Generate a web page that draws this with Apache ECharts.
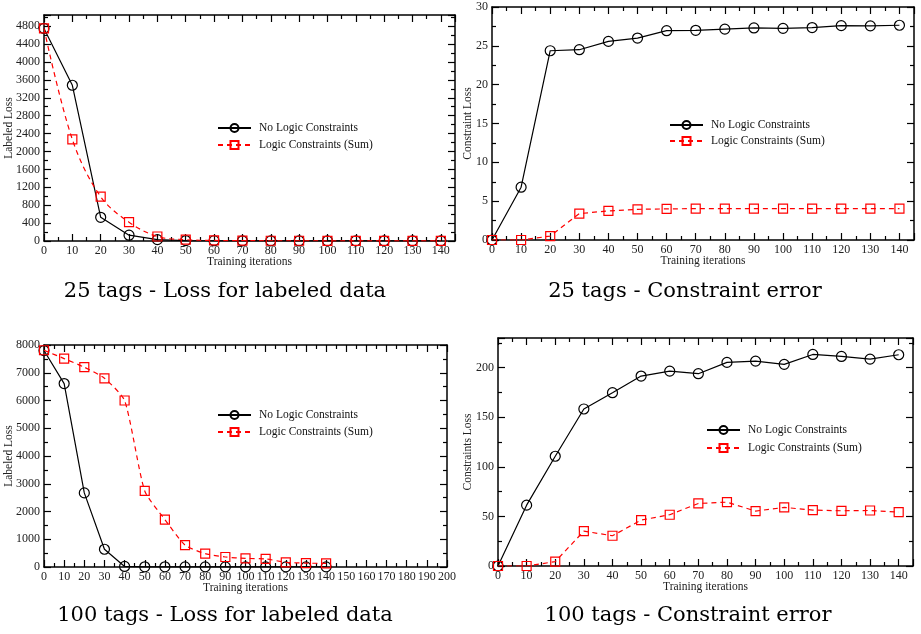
<!DOCTYPE html>
<html>
<head>
<meta charset="utf-8">
<script src="https://cdn.jsdelivr.net/npm/echarts@6/dist/echarts.min.js"></script>
<style>
  html, body { margin: 0; padding: 0; background: #fff; }
  #chart { width: 921px; height: 634px; }
</style>
</head>
<body>
<div id="chart"></div>
<script>
  // training iterations shared by all four panels
  const iters = [0, 10, 20, 30, 40, 50, 60, 70, 80, 90, 100, 110, 120, 130, 140];

  // 25 tags - loss for labeled data
  const loss25NoLogic = [4750, 3480, 530, 130, 30, 10, 6, 5, 5, 5, 5, 5, 5, 5, 5];
  const loss25Logic = [4750, 2270, 990, 420, 100, 30, 12, 8, 6, 6, 5, 5, 5, 5, 5];

  // 25 tags - constraint error
  const err25NoLogic = [0, 6.8, 24.37, 24.5, 25.57, 26.0, 26.95, 27.0, 27.15, 27.3, 27.25, 27.35, 27.6, 27.57, 27.65];
  const err25Logic = [0, 0, 0.5, 3.4, 3.75, 3.95, 4.0, 4.05, 4.05, 4.05, 4.05, 4.05, 4.05, 4.05, 4.05];

  // 100 tags - loss for labeled data
  const loss100NoLogic = [7800, 6610, 2670, 640, 20, 8, 6, 5, 5, 5, 5, 5, 5, 5, 5];
  const loss100Logic = [7810, 7510, 7200, 6800, 6000, 2740, 1710, 790, 480, 360, 310, 290, 170, 140, 130];

  // 100 tags - constraint error
  const err100NoLogic = [0, 61.4, 110.7, 158.4, 174.8, 191.6, 196.6, 194, 205.4, 206.7, 203.4, 213.4, 211.4, 208.7, 213.1];
  const err100Logic = [0, 0, 4.4, 35.2, 30.5, 46.3, 51.7, 63.1, 64.4, 55.4, 59.1, 56.4, 55.7, 56.0, 54.4];

  const serifFont = 'Liberation Serif';
  const captionFont = 'DejaVu Serif';
  const nameNo = 'No Logic Constraints';
  const nameSum = 'Logic Constraints (Sum)';

  const pair = (ys) => iters.map((x, i) => [x, ys[i]]);

  const grids = [
    { left: 44, top: 15, width: 411, height: 226 },
    { left: 492, top: 7, width: 422, height: 233 },
    { left: 44, top: 345, width: 403, height: 222 },
    { left: 498, top: 338, width: 415, height: 228 }
  ];

  const panels = [
    { xMax: 145, xInt: 10, yMax: 5050, yInt: 400, yName: 'Labeled Loss', yGap: 29 },
    { xMax: 145, xInt: 10, yMax: 30, yInt: 5, yName: 'Constraint Loss', yGap: 18 },
    { xMax: 200, xInt: 10, yMax: 8000, yInt: 1000, yName: 'Labeled Loss', yGap: 29 },
    { xMax: 145, xInt: 10, yMax: 230, yInt: 50, yName: 'Constraints Loss', yGap: 24 }
  ];

  const lineColor = '#000';
  const labelStyle = { fontFamily: serifFont, fontSize: 12, color: '#222' };

  function baseAxis(min, max, interval, showLabel) {
    return {
      type: 'value',
      min: min,
      max: max,
      interval: interval,
      nameMoveOverlap: false,
      axisLine: { show: true, onZero: false, lineStyle: { color: lineColor, width: 1.5 } },
      axisTick: { show: true, inside: true, length: 7, lineStyle: { color: lineColor, width: 1.2 } },
      minorTick: { show: true, splitNumber: 2, length: 4, lineStyle: { color: lineColor, width: 1.2 } },
      splitLine: { show: false },
      axisLabel: Object.assign({
        show: showLabel,
        margin: 4,
        showMaxLabel: max % interval === 0,
        formatter: (v) => String(v)
      }, labelStyle)
    };
  }

  const xAxis = [];
  const yAxis = [];
  panels.forEach((p, gi) => {
    const xb = baseAxis(0, p.xMax, p.xInt, true);
    xb.gridIndex = gi;
    xb.position = 'bottom';
    xb.name = 'Training iterations';
    xb.nameLocation = 'middle';
    xb.nameGap = 15;
    xb.nameTextStyle = { fontFamily: serifFont, fontSize: 11.5, color: '#222' };
    const xt = baseAxis(0, p.xMax, p.xInt, false);
    xt.gridIndex = gi;
    xt.position = 'top';
    xAxis.push(xb, xt);

    const yl = baseAxis(0, p.yMax, p.yInt, true);
    yl.gridIndex = gi;
    yl.position = 'left';
    yl.name = p.yName;
    yl.nameLocation = 'middle';
    yl.nameGap = p.yGap;
    yl.nameTextStyle = { fontFamily: serifFont, fontSize: 11.5, color: '#222' };
    const yr = baseAxis(0, p.yMax, p.yInt, false);
    yr.gridIndex = gi;
    yr.position = 'right';
    yAxis.push(yl, yr);
  });

  function noLogicSeries(gi, ys) {
    return {
      name: nameNo,
      type: 'line',
      xAxisIndex: gi * 2,
      yAxisIndex: gi * 2,
      data: pair(ys),
      symbol: 'circle',
      symbolSize: 10,
      showAllSymbol: true,
      itemStyle: { color: 'rgba(0,0,0,0)', borderColor: '#000', borderWidth: 1.2 },
      lineStyle: { color: '#000', width: 1.2 },
      emphasis: { disabled: true },
      z: 3
    };
  }

  function logicSeries(gi, ys, smooth) {
    return {
      name: nameSum,
      type: 'line',
      xAxisIndex: gi * 2,
      yAxisIndex: gi * 2,
      data: pair(ys),
      smooth: smooth,
      symbol: 'rect',
      symbolSize: 9,
      showAllSymbol: true,
      itemStyle: { color: 'rgba(0,0,0,0)', borderColor: '#ff0000', borderWidth: 1.2 },
      lineStyle: { color: '#ff0000', width: 1.2, type: [5, 4] },
      emphasis: { disabled: true },
      z: 4
    };
  }

  const series = [
    noLogicSeries(0, loss25NoLogic),
    logicSeries(0, loss25Logic, 0.35),
    noLogicSeries(1, err25NoLogic),
    logicSeries(1, err25Logic, false),
    noLogicSeries(2, loss100NoLogic),
    logicSeries(2, loss100Logic, 0.2),
    noLogicSeries(3, err100NoLogic),
    logicSeries(3, err100Logic, false)
  ];

  const legendPos = [
    { left: 212, top: 117, itemGap: 5 },
    { left: 664, top: 114, itemGap: 4 },
    { left: 212, top: 404, itemGap: 5 },
    { left: 701, top: 419, itemGap: 6 }
  ];
  const legend = legendPos.map((lp) => ({
    left: lp.left,
    top: lp.top,
    orient: 'vertical',
    itemGap: lp.itemGap,
    itemWidth: 33,
    itemHeight: 10,
    selectedMode: false,
    data: [nameNo, nameSum],
    textStyle: { fontFamily: serifFont, fontSize: 11.5, color: '#111', padding: [0, 0, 0, 3] }
  }));

  const captions = [
    { text: '25 tags - Loss for labeled data', cx: 225, cy: 292 },
    { text: '25 tags - Constraint error', cx: 685, cy: 292 },
    { text: '100 tags - Loss for labeled data', cx: 225, cy: 616 },
    { text: '100 tags - Constraint error', cx: 688, cy: 616 }
  ];
  const title = captions.map((c) => ({
    text: c.text,
    left: c.cx - 5,
    top: c.cy - 5,
    textAlign: 'center',
    textVerticalAlign: 'middle',
    textStyle: { fontFamily: captionFont, fontSize: 21, fontWeight: 'normal', color: '#000' }
  }));

  const chart = echarts.init(document.getElementById('chart'));
  chart.setOption({
    animation: false,
    backgroundColor: '#fff',
    title: title,
    legend: legend,
    grid: grids,
    xAxis: xAxis,
    yAxis: yAxis,
    series: series
  });
</script>
</body>
</html>
